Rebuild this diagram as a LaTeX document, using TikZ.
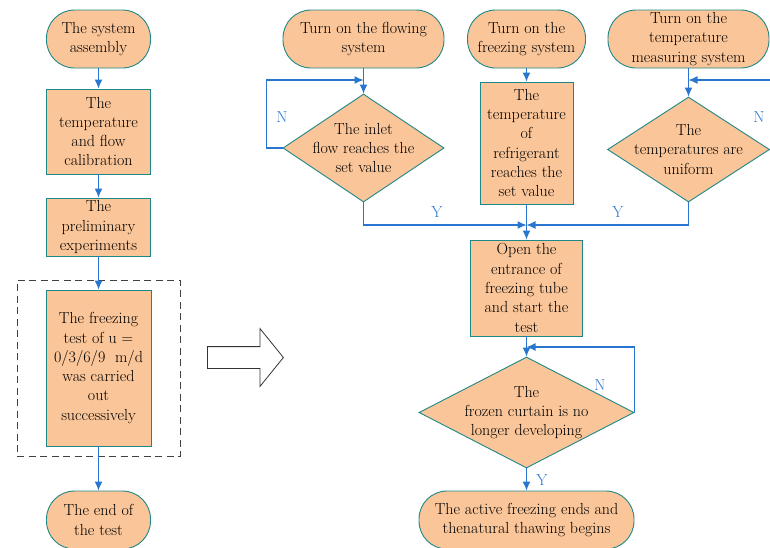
\documentclass[tikz,border=0pt]{standalone}
\usepackage{tikz}
\usetikzlibrary{arrows.meta,shapes.geometric,shapes.arrows}
\definecolor{boxfill}{RGB}{250,197,152}
\definecolor{boxline}{RGB}{30,135,135}
\definecolor{flowblue}{RGB}{40,118,208}

\begin{document}
\begin{tikzpicture}
   [x=1pt,y=-1pt,
    every node/.style={font=\fontsize{16}{19.3}\selectfont,align=center,inner sep=0pt,text=black},
    term/.style={draw=boxline,fill=boxfill,line width=0.9pt,rounded corners=28pt,minimum height=58pt},
    proc/.style={draw=boxline,fill=boxfill,line width=0.9pt,rectangle},
    decide/.style={draw=boxline,fill=boxfill,line width=0.9pt,diamond,inner sep=-8pt},
    flowline/.style={draw=flowblue,line width=1.2pt,-{Latex[length=9pt,width=8pt]}},
    yn/.style={text=flowblue}]
   \useasboundingbox (0,0) rectangle (770,547);
   \clip (0,0) rectangle (770,547);

   % left column
   \node[draw=black!75,line width=0.9pt,dash pattern=on 7pt off 4.5pt,
         minimum width=163pt,minimum height=176pt] (frame) at (98.5,368) {};
   \node[term,minimum width=104pt] (asm) at (98.5,39) {The system\\assembly};
   \node[proc,minimum width=104pt,minimum height=85pt] (calib) at (98.5,131.5)
      {The\\temperature\\and flow\\calibration};
   \node[proc,minimum width=104pt,minimum height=58pt] (prelim) at (98.5,227)
      {The\\preliminary\\experiments};
   \node[proc,minimum width=105pt,minimum height=156pt] (test) at (98.5,368)
      {The freezing\\test of u =\\0/3/6/9~ m/d\\was carried\\out\\successively};
   \node[term,minimum width=104pt] (endt) at (98.5,520) {The end of\\the test};

   \draw[flowline] (asm) -- (calib);
   \draw[flowline] (calib) -- (prelim);
   \draw[flowline] (prelim) -- (test);
   \draw[flowline] (test) -- (endt);

   % hollow arrow
   \node[draw=black!80,line width=0.8pt,single arrow,anchor=tail,inner sep=10.5pt,
         single arrow head extend=18pt,single arrow tip angle=102,
         minimum height=76pt,minimum width=57pt] (bigarrow) at (207,357.5) {};

   % right part, top row
   \node[term,minimum width=161pt] (flow) at (363.5,39) {Turn on the flowing\\system};
   \node[term,minimum width=118pt] (freeze) at (526.5,39) {Turn on the\\freezing system};
   \node[term,minimum width=161pt] (meas) at (688.5,39)
      {Turn on the\\temperature\\measuring system};

   \node[decide,aspect=1.49,minimum width=161pt,minimum height=108pt] (inlet) at (363.5,148)
      {The inlet\\flow reaches the\\set value};
   \node[proc,minimum width=93pt,minimum height=122pt] (refrig) at (526.5,143)
      {The\\temperature\\of\\refrigerant\\reaches the\\set value};
   \node[decide,aspect=1.53,minimum width=162pt,minimum height=105pt] (unif) at (688.5,149.5)
      {The\\temperatures are\\uniform};

   \node[proc,minimum width=112pt,minimum height=96pt] (open) at (526.5,288)
      {Open the\\entrance of\\freezing tube\\and start the\\test};
   \node[decide,aspect=1.94,minimum width=215pt,minimum height=111pt] (curtain) at (526.5,412.5)
      {The\\frozen curtain is no\\longer developing};
   \node[term,minimum width=215pt] (active) at (526.5,520)
      {The active freezing ends and\\thenatural thawing begins};

   \coordinate (jin) at (363.5,80);
   \coordinate (jr) at (688.5,80);
   \coordinate (join) at (526.5,225);
   \coordinate (jc) at (526.5,347);

   \draw[flowline] (flow) -- (inlet);
   \draw[flowline] (inlet.west) -- ++(-16,0) |- (jin);
   \draw[flowline] (freeze) -- (refrig);
   \draw[flowline] (meas) -- (unif);
   \draw[flowline] (unif.east) -- ++(12,0) |- (jr);
   \draw[flowline] (inlet.south) |- (join);
   \draw[flowline] (unif.south) |- (join);
   \draw[flowline] (refrig) -- (open);
   \draw[flowline] (open) -- (curtain);
   \draw[flowline] (curtain.east) |- (jc);
   \draw[flowline] (curtain) -- (active);

   \node[yn] (n1) at (282,117) {N};
   \node[yn] (n2) at (759,117) {N};
   \node[yn] (n3) at (600,385) {N};
   \node[yn] (y1) at (437,212) {Y};
   \node[yn] (y2) at (618,212) {Y};
   \node[yn] (y3) at (542,480) {Y};
\end{tikzpicture}
\end{document}
